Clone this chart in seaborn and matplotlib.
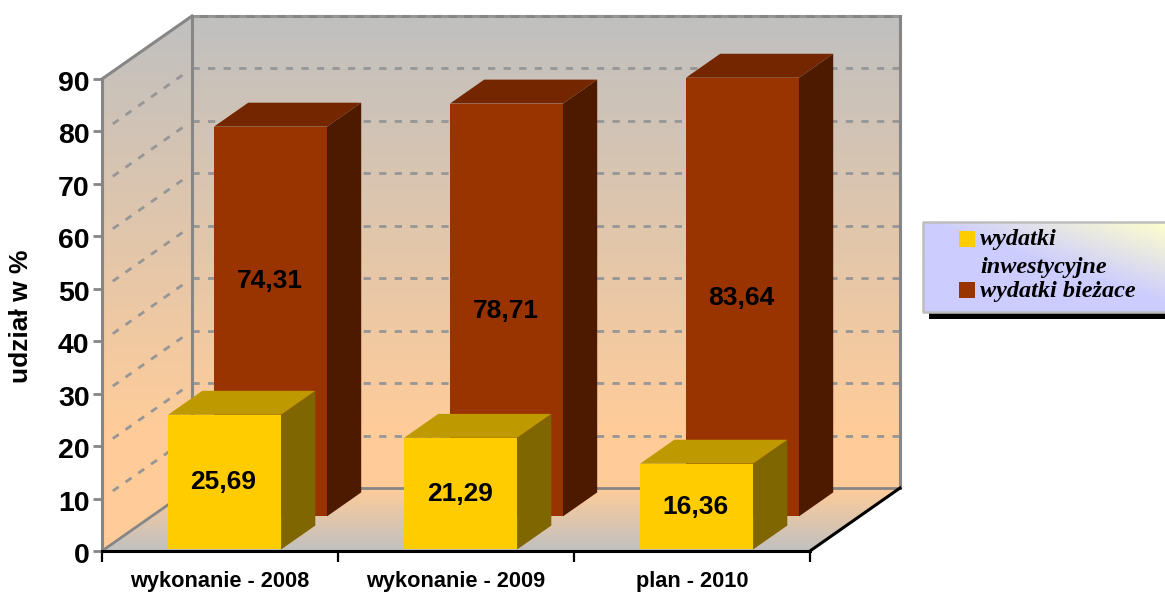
import numpy as np
import matplotlib
matplotlib.use("Agg")
import matplotlib.pyplot as plt
from matplotlib.colors import LinearSegmentedColormap
from matplotlib.patches import Polygon, Rectangle
from matplotlib.transforms import Affine2D, ScaledTranslation
import seaborn as sns

categories = ["wykonanie - 2008", "wykonanie - 2009", "plan - 2010"]
wydatki_inwestycyjne = [25.69, 21.29, 16.36]
wydatki_biezace = [74.31, 78.71, 83.64]
value_labels_inw = ["25,69", "21,29", "16,36"]
value_labels_biez = ["74,31", "78,71", "83,64"]
y_ticks = [0, 10, 20, 30, 40, 50, 60, 70, 80, 90]
legend_labels = ["wydatki\ninwestycyjne", "wydatki bieżace"]
y_title = "udział w %"

W, H = 1165, 592
AX_L, AX_R, AX_T, AX_B = 102, 810, 79, 551
GRAY, GRID = "#868686", "#969696"
SANS = "Liberation Sans"
SERIF = "Liberation Serif"

sns.set_theme(style="white")
fig = plt.figure(figsize=(W / 100, H / 100), dpi=100, facecolor="white")
ax = fig.add_axes([AX_L / W, 1 - AX_B / H, (AX_R - AX_L) / W, (AX_B - AX_T) / H])
ax.patch.set_visible(False)

# seaborn bars (front faces), shifted into depth below
sns.barplot(x=categories, y=wydatki_biezace, color="#993300", saturation=1,
            width=113 / 236, ax=ax, zorder=5, linewidth=0)
red = list(ax.patches)
sns.barplot(x=categories, y=wydatki_inwestycyjne, color="#FFCC00", saturation=1,
            width=113 / 236, ax=ax, zorder=8, linewidth=0)
yellow = list(ax.patches)[len(red):]
ax.set_xlim(-0.5, 2.5)
ax.set_ylim(0, 90)

CAT_PX = (AX_R - AX_L) / 3
VAL_PX = (AX_B - AX_T) / 90
DX = 90 / CAT_PX      # full floor depth in category units
DY = 63 / VAL_PX      # full floor depth in value units


def P(x, y, d=0.0):
    return (x + d * DX, y + d * DY)


def gradient(pts, stops, z):
    cmap = LinearSegmentedColormap.from_list("g", stops)
    xs, ys = zip(*pts)
    im = ax.imshow(np.linspace(0, 1, 256)[:, None], cmap=cmap, aspect="auto",
                   extent=(min(xs), max(xs), min(ys), max(ys)), zorder=z,
                   interpolation="bilinear")
    im.set_clip_box(fig.bbox)
    im.set_clip_path(Polygon(pts, transform=ax.transData))


def line(a, b, color=GRAY, lw=2.2, z=2, **kw):
    ax.plot([a[0], b[0]], [a[1], b[1]], color=color, lw=lw, zorder=z,
            clip_on=False, solid_capstyle="projecting", **kw)


x0, x1 = -0.5, 2.5
ytop = 90
fl = [P(x0, 0), P(x1, 0), P(x1, 0, 1), P(x0, 0, 1)]
back = [P(x0, 0, 1), P(x1, 0, 1), P(x1, ytop, 1), P(x0, ytop, 1)]
left = [P(x0, 0), P(x0, 0, 1), P(x0, ytop, 1), P(x0, ytop)]
gradient(back, [(0, "#C0C0C0"), (0.88, "#FFCC99"), (1, "#FFCC99")], 0.5)
gradient(left, [(0, "#C0C0C0"), (0.78, "#FFCC99"), (1, "#FFCC99")], 0.5)
gradient(fl, [(0, "#FFCC99"), (1, "#C0C0C0")], 0.6)
ax.set_xlim(-0.5, 2.5)
ax.set_ylim(0, 90)

# grid lines
for v in y_ticks[1:]:
    line(P(x0, v, 1), P(x1, v, 1), color=GRID, lw=2.0, z=1.5,
         dashes=(2.6, 3.0), dash_capstyle="butt")
    line(P(x0, v, 0.12), P(x0, v, 0.93 if v < 90 else 0.12), color=GRID, lw=2.0, z=1.5,
         dashes=(2.6, 3.0), dash_capstyle="butt")

# wall frame
line(P(x0, 0), P(x0, 0, 1), lw=2.0)
line(P(x0, 0, 1), P(x1, 0, 1), lw=2.0)
line(P(x1, 0, 1), P(x1, ytop, 1))
line(P(x0, 0, 1), P(x0, ytop, 1))
line(P(x0, ytop, 1), P(x1, ytop, 1), color=GRAY, lw=2.2, z=1.2)
line(P(x0, ytop), P(x0, ytop, 1))
line(P(x1, 0), P(x1, 0, 1), color="black", lw=2.2, z=3)


def box(patches, values, labels, d0, d1, side, top, z, extra, nudge_y):
    nx = 1 / CAT_PX
    ny = nudge_y / VAL_PX
    for p, v, lab, ex in zip(patches, values, labels, extra):
        sx, sy = P(0, 0, d0)
        p.set_transform(Affine2D().translate(sx + nx, sy + ny) + ax.transData)
        p.set_clip_on(False)
        xa, xb = p.get_x() + nx, p.get_x() + p.get_width() + nx
        ax.add_patch(Polygon([P(xb, ny, d0), P(xb, ny, d1), P(xb, v + ny, d1), P(xb, v + ny, d0)],
                             fc=side, ec="none", zorder=z, clip_on=False))
        ax.add_patch(Polygon([P(xa, v + ny, d0), P(xb, v + ny, d0), P(xb, v + ny, d1), P(xa, v + ny, d1)],
                             fc=top, ec="none", zorder=z, clip_on=False))
        cx, cy = P((xa + xb) / 2, v / 2, d0)
        ax.text(cx - nx, cy + ex / VAL_PX, lab, ha="center", va="center", color="black",
                family=SANS, weight="bold", fontsize=19, zorder=12)


box(red, wydatki_biezace, value_labels_biez, 0.55, 0.93, "#4D1A00", "#732600", 4, [40, -1, -1], 0)
box(yellow, wydatki_inwestycyjne, value_labels_inw, 0.04, 0.42, "#806600", "#BF9900", 7, [-1, -1, -1], -1)

# axes
sns.despine(ax=ax, top=True, right=True, left=False, bottom=False)
ax.spines["left"].set_color(GRAY)
ax.spines["left"].set_linewidth(2.2)
ax.spines["bottom"].set_color("black")
ax.spines["bottom"].set_linewidth(2.2)
ax.spines["bottom"].set_zorder(9)
ax.set_yticks(y_ticks)
ax.set_yticklabels([str(t) for t in y_ticks], family=SANS, weight="bold", fontsize=20.5, color="black")
ax.tick_params(axis="y", left=True, length=6.5, width=2.0, color=GRAY, pad=2.5)
ax.set_xticks([-0.5, 0.5, 1.5, 2.5])
ax.set_xticklabels([])
ax.tick_params(axis="x", which="major", bottom=True, length=8, width=1.6, color="black")
ax.set_xticks([0, 1, 2], minor=True)
ax.set_xticklabels(categories, minor=True, family=SANS, weight="bold", fontsize=15.7, color="black")
ax.tick_params(axis="x", which="minor", bottom=False, length=0, pad=14.5)
ax.set_xlabel("")
ax.set_ylabel("")
for lab in ax.get_yticklabels():
    lab.set_transform(lab.get_transform() + ScaledTranslation(0, -2 / 100, fig.dpi_scale_trans))
fig.text(21.5 / W, 1 - 316 / H, y_title, rotation=90, ha="center", va="center",
         family=SANS, weight="bold", fontsize=19, color="black")

# legend panel, pixel coordinates
lg = fig.add_axes([0, 0, 1, 1])
lg.set_xlim(0, W)
lg.set_ylim(H, 0)
lg.axis("off")
lg.add_patch(Rectangle((929, 313), 240, 6, fc="black", ec="none", zorder=1))
gx, gy = np.meshgrid(np.linspace(0, 1, 200), np.linspace(0, 1, 60))
gcm = LinearSegmentedColormap.from_list("l", ["#FFFFCC", "#CCCCFF"])
t = np.clip((1 - gx) * 1.0 + gy * 1.1, 0, 1)
im = lg.imshow(t, cmap=gcm, extent=(923, 1167, 313, 222), aspect="auto", zorder=2)
lg.set_xlim(0, W)
lg.set_ylim(H, 0)
lg.plot([1167, 923, 923, 1167], [222, 222, 312, 312], color="#BEBEBE", lw=1.8, zorder=3, clip_on=False)
lg.add_patch(Rectangle((959, 231), 16, 16, fc="#FFCC00", ec="none", zorder=4))
lg.add_patch(Rectangle((959, 282), 16, 16, fc="#993300", ec="none", zorder=4))
for (yy, s) in zip([240, 268, 291], ["wydatki", "inwestycyjne", "wydatki bieżace"]):
    lg.text(980, yy, s, family=SERIF, style="italic", weight="bold", fontsize=17.5,
            ha="left", va="center", color="black", zorder=5)

fig.savefig("out.png", dpi=100, facecolor="white")
